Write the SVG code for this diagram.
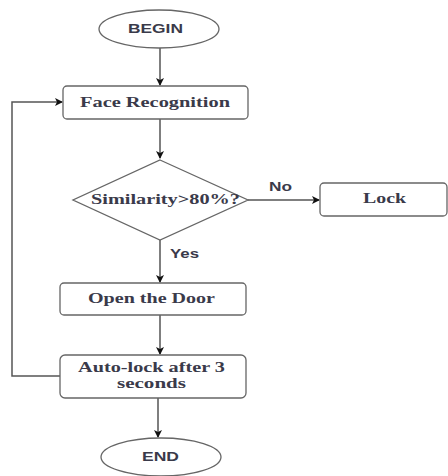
<svg xmlns="http://www.w3.org/2000/svg" width="448" height="476" viewBox="0 0 448 476">
<style>
.shape{fill:#fff;stroke:#666;stroke-width:1.3}
.edge{fill:none;stroke:#555;stroke-width:1.5}
.serif{font-family:"Liberation Serif","Times New Roman",serif;font-size:14px;font-weight:bold;fill:#3a3a4a;text-anchor:middle}
.sans{font-family:"Liberation Sans",Arial,sans-serif;font-size:12px;font-weight:bold;fill:#3a3a4a;text-anchor:middle}
</style>
<defs>
<marker id="arr" markerWidth="8" markerHeight="8" refX="7" refY="4" orient="auto" markerUnits="userSpaceOnUse">
<path d="M0,0 L8,4 L0,8 L2,4 Z" fill="#111"/>
</marker>
</defs>
<rect width="448" height="476" fill="#fff"/>
<g id="connectors">
<path class="edge" d="M160,48 V85" marker-end="url(#arr)"/>
<path class="edge" d="M160,119 V158" marker-end="url(#arr)"/>
<path class="edge" d="M248,200 H319" marker-end="url(#arr)"/>
<path class="edge" d="M160,240 V282" marker-end="url(#arr)"/>
<path class="edge" d="M160,315 V354" marker-end="url(#arr)"/>
<path class="edge" d="M60,376 H12 V102 H62" marker-end="url(#arr)"/>
<path class="edge" d="M158,398 V437" marker-end="url(#arr)"/>
<text class="sans" x="280.5" y="191" textLength="23" lengthAdjust="spacingAndGlyphs">No</text>
<text class="sans" x="184.5" y="258" textLength="29" lengthAdjust="spacingAndGlyphs">Yes</text>
</g>
<g id="begin">
<ellipse class="shape" cx="159" cy="29" rx="60" ry="19"/>
<text class="sans" x="155.5" y="33" textLength="55" lengthAdjust="spacingAndGlyphs">BEGIN</text>
</g>
<g id="face">
<rect class="shape" x="63" y="86" width="185" height="33" rx="4"/>
<text class="serif" x="155" y="107" textLength="150" lengthAdjust="spacingAndGlyphs">Face Recognition</text>
</g>
<g id="decision">
<polygon class="shape" points="160,160 248,200 160,240 73,200"/>
<text class="serif" x="165.5" y="204" textLength="149" lengthAdjust="spacingAndGlyphs">Similarity&gt;80%?</text>
</g>
<g id="lock">
<rect class="shape" x="320" y="183" width="127" height="33" rx="4"/>
<text class="serif" x="384.5" y="203" textLength="43" lengthAdjust="spacingAndGlyphs">Lock</text>
</g>
<g id="open">
<rect class="shape" x="60" y="283" width="186" height="32" rx="4"/>
<text class="serif" x="151.5" y="303" textLength="127" lengthAdjust="spacingAndGlyphs">Open the Door</text>
</g>
<g id="autolock">
<rect class="shape" x="60" y="355" width="186" height="43" rx="5"/>
<text class="serif" x="151.5" y="372" textLength="147" lengthAdjust="spacingAndGlyphs">Auto-lock after 3</text>
<text class="serif" x="151.5" y="388" textLength="69" lengthAdjust="spacingAndGlyphs">seconds</text>
</g>
<g id="end">
<ellipse class="shape" cx="161" cy="457" rx="60" ry="19"/>
<text class="sans" x="160.5" y="461" textLength="37" lengthAdjust="spacingAndGlyphs">END</text>
</g>
</svg>
